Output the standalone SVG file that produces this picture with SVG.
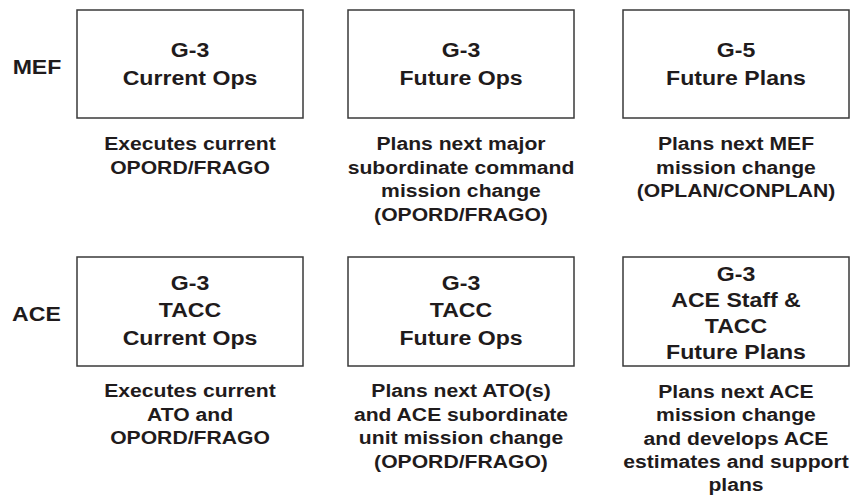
<svg xmlns="http://www.w3.org/2000/svg" width="858" height="495" viewBox="0 0 858 495">
<style>
  .box { fill: #ffffff; stroke: #3a3a3a; stroke-width: 1.5; }
  .title { font-family: "Liberation Sans", Arial, sans-serif; font-weight: bold; font-size: 21px; fill: #1f1b1c; text-anchor: middle; }
  .desc { font-family: "Liberation Sans", Arial, sans-serif; font-weight: bold; font-size: 18.8px; fill: #1f1b1c; text-anchor: middle; }
</style>
<rect x="0" y="0" width="858" height="495" fill="#ffffff"/>
<g id="row-labels">
  <text class="title" transform="translate(37 0) scale(1.1 1)"><tspan x="0" y="74">MEF</tspan></text>
  <text class="title" transform="translate(36.5 0) scale(1.1 1)"><tspan x="0" y="321.5">ACE</tspan></text>
</g>
<g id="connectors"></g>
<g id="mef-g3-current">
  <rect class="box" x="77" y="10" width="226" height="108"/>
  <text class="title" transform="translate(190 0) scale(1.1 1)"><tspan x="0" y="57.5">G-3</tspan><tspan x="0" y="85">Current Ops</tspan></text>
  <text class="desc" transform="translate(190 0) scale(1.125 1)"><tspan x="0" y="150.5">Executes current</tspan><tspan x="0" y="174">OPORD/FRAGO</tspan></text>
</g>
<g id="mef-g3-future">
  <rect class="box" x="348" y="10" width="226" height="108"/>
  <text class="title" transform="translate(461 0) scale(1.1 1)"><tspan x="0" y="57.5">G-3</tspan><tspan x="0" y="85">Future Ops</tspan></text>
  <text class="desc" transform="translate(461 0) scale(1.125 1)"><tspan x="0" y="150.5">Plans next major</tspan><tspan x="0" y="174">subordinate command</tspan><tspan x="0" y="197.5">mission change</tspan><tspan x="0" y="221">(OPORD/FRAGO)</tspan></text>
</g>
<g id="mef-g5-plans">
  <rect class="box" x="623" y="10" width="226" height="108"/>
  <text class="title" transform="translate(736 0) scale(1.1 1)"><tspan x="0" y="57.5">G-5</tspan><tspan x="0" y="85">Future Plans</tspan></text>
  <text class="desc" transform="translate(736 0) scale(1.125 1)"><tspan x="0" y="150.5">Plans next MEF</tspan><tspan x="0" y="174">mission change</tspan><tspan x="0" y="197.5">(OPLAN/CONPLAN)</tspan></text>
</g>
<g id="ace-g3-current">
  <rect class="box" x="77" y="257" width="226" height="109"/>
  <text class="title" transform="translate(190 0) scale(1.1 1)"><tspan x="0" y="290">G-3</tspan><tspan x="0" y="317.5">TACC</tspan><tspan x="0" y="345">Current Ops</tspan></text>
  <text class="desc" transform="translate(190 0) scale(1.125 1)"><tspan x="0" y="397.5">Executes current</tspan><tspan x="0" y="421">ATO and</tspan><tspan x="0" y="444.5">OPORD/FRAGO</tspan></text>
</g>
<g id="ace-g3-future">
  <rect class="box" x="348" y="257" width="226" height="109"/>
  <text class="title" transform="translate(461 0) scale(1.1 1)"><tspan x="0" y="290">G-3</tspan><tspan x="0" y="317.5">TACC</tspan><tspan x="0" y="345">Future Ops</tspan></text>
  <text class="desc" transform="translate(461 0) scale(1.125 1)"><tspan x="0" y="397.5">Plans next ATO(s)</tspan><tspan x="0" y="421">and ACE subordinate</tspan><tspan x="0" y="444.5">unit mission change</tspan><tspan x="0" y="468">(OPORD/FRAGO)</tspan></text>
</g>
<g id="ace-g3-plans">
  <rect class="box" x="623" y="257" width="226" height="109"/>
  <text class="title" transform="translate(736 0) scale(1.1 1)"><tspan x="0" y="281">G-3</tspan><tspan x="0" y="307.5">ACE Staff &amp;</tspan><tspan x="0" y="333.5">TACC</tspan><tspan x="0" y="359.5">Future Plans</tspan></text>
  <text class="desc" transform="translate(736 0) scale(1.125 1)"><tspan x="0" y="398">Plans next ACE</tspan><tspan x="0" y="421.5">mission change</tspan><tspan x="0" y="445">and develops ACE</tspan><tspan x="0" y="468.5">estimates and support</tspan><tspan x="0" y="491.5">plans</tspan></text>
</g>
</svg>
